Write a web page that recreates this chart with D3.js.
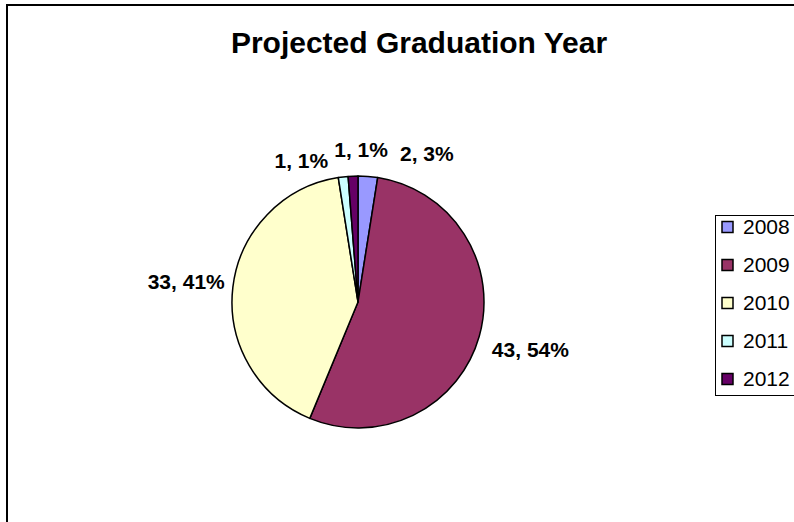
<!DOCTYPE html>
<html>
<head>
<meta charset="utf-8">
<script src="https://cdn.jsdelivr.net/npm/d3@7"></script>
<style>
  html, body { margin: 0; padding: 0; background: #fff; }
  svg { display: block; font-family: "Liberation Sans", Arial, sans-serif; }
</style>
</head>
<body>
<svg id="chart" width="794" height="522"></svg>
<script>
// Projected graduation year counts
const years = ["2008", "2009", "2010", "2011", "2012"];
const counts = [2, 43, 33, 1, 1];
const sliceColors = ["#9999FF", "#993366", "#FFFFCC", "#CCFFFF", "#660066"];
const chartTitle = "Projected Graduation Year";

const svg = d3.select("#chart");

// chart area frame (runs off the right and bottom edges)
svg.append("rect")
  .attr("x", 7).attr("y", 5)
  .attr("width", 820).attr("height", 540)
  .attr("fill", "#fff").attr("stroke", "#000").attr("stroke-width", 2);

svg.append("text")
  .attr("x", 419).attr("y", 53)
  .attr("text-anchor", "middle")
  .attr("font-size", 30).attr("font-weight", "bold")
  .text(chartTitle);

const cx = 358, cy = 302, r = 126;
const total = d3.sum(counts);
const color = d3.scaleOrdinal().domain(years).range(sliceColors);

const pie = d3.pie().sort(null).value(d => d.value);
const arcs = pie(years.map((y, i) => ({ year: y, value: counts[i] })));
const arc = d3.arc().innerRadius(0).outerRadius(r);
const labelArc = d3.arc().innerRadius(r + 50).outerRadius(r + 50);

const g = svg.append("g").attr("transform", `translate(${cx},${cy})`);

g.selectAll("path.slice")
  .data(arcs)
  .join("path")
  .attr("class", "slice")
  .attr("d", arc)
  .attr("fill", d => color(d.data.year))
  .attr("stroke", "#000")
  .attr("stroke-width", 1.5)
  .attr("stroke-linejoin", "round");

// small slices at the top are spread apart so their labels do not collide
const labelShift = { "2008": [55, 27], "2011": [-36, 33], "2012": [10, 23] };

g.selectAll("text.val")
  .data(arcs)
  .join("text")
  .attr("class", "val")
  .attr("transform", d => {
    const [x, y] = labelArc.centroid(d);
    const s = labelShift[d.data.year] || [3, 0];
    return `translate(${x + s[0]},${y + s[1]})`;
  })
  .attr("text-anchor", "middle")
  .attr("dy", "0.36em")
  .attr("font-size", 21).attr("font-weight", "bold")
  .text(d => `${d.data.value}, ${Math.round(d.data.value / total * 100)}%`);

// legend
const legend = svg.append("g");
legend.append("rect")
  .attr("x", 715.5).attr("y", 215.5)
  .attr("width", 100).attr("height", 180)
  .attr("fill", "#fff").attr("stroke", "#000").attr("stroke-width", 1);

const ly = d3.scalePoint().domain(years).range([227, 379]);

const items = legend.selectAll("g.item")
  .data(years)
  .join("g")
  .attr("class", "item")
  .attr("transform", d => `translate(0,${ly(d)})`);

items.append("rect")
  .attr("x", 722).attr("y", -5.5)
  .attr("width", 11).attr("height", 11)
  .attr("fill", d => color(d))
  .attr("stroke", "#000").attr("stroke-width", 1.5);

items.append("text")
  .attr("x", 743).attr("y", 6.5)
  .attr("font-size", 21)
  .text(d => d);
</script>
</body>
</html>
